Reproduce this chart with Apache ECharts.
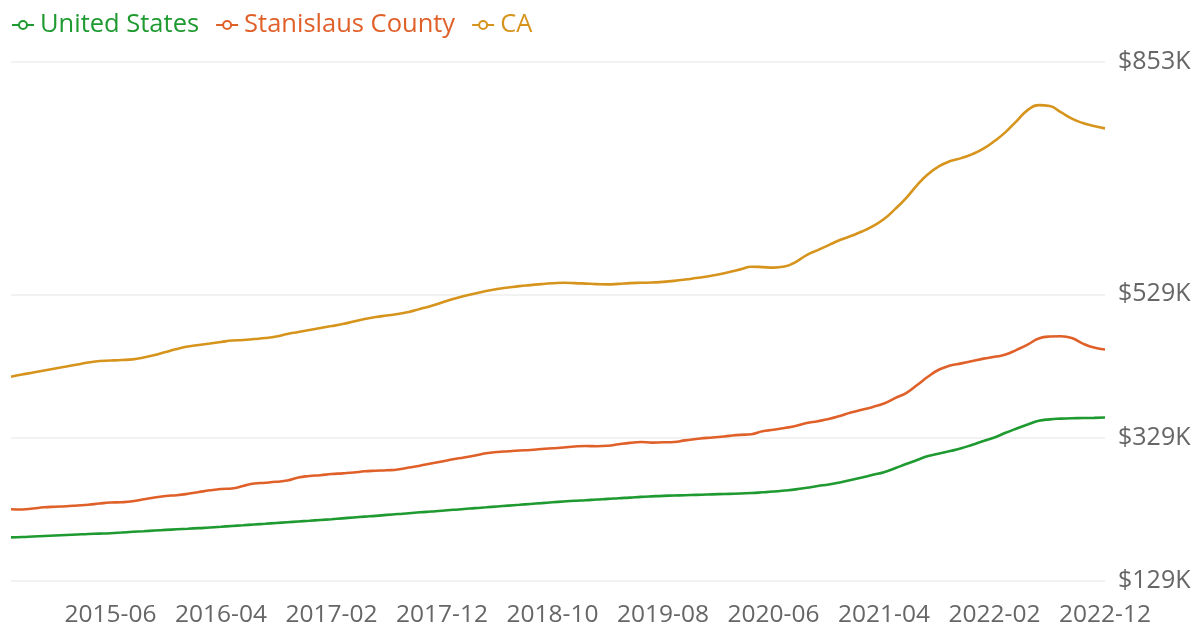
<!DOCTYPE html>
<html>
<head>
<meta charset="utf-8">
<script src="https://cdn.jsdelivr.net/npm/echarts@6/dist/echarts.min.js"></script>
<style>
html,body{margin:0;padding:0;background:#fff;}
#chart{width:1203px;height:633px;}
</style>
</head>
<body>
<div id="chart"></div>
<script>
// Months 2014-09 .. 2022-12
const startYear = 2014, startMonth = 9, monthCount = 100;
const months = [];
for (let k = 0; k < monthCount; k++) {
  const m = startMonth - 1 + k;
  const y = startYear + Math.floor(m / 12);
  const mm = (m % 12) + 1;
  months.push(y + '-' + (mm < 10 ? '0' + mm : mm));
}

const yTicks = [129, 329, 529, 853];

const usValues = [
  189.9,190.4,191.1,191.8,192.5,193.2,193.9,194.6,195.1,195.7,
  196.6,197.6,198.5,199.4,200.3,201.1,201.9,202.8,203.6,204.6,
  205.7,206.7,207.8,208.8,209.9,211.0,212.0,213.0,214.1,215.2,
  216.4,217.6,218.8,219.9,221.2,222.4,223.5,224.8,225.9,227.0,
  228.3,229.4,230.7,231.8,233.0,234.2,235.3,236.5,237.6,238.8,
  239.9,240.9,241.7,242.7,243.5,244.5,245.3,246.3,247.1,247.8,
  248.2,248.7,249.2,249.6,250.2,250.6,251.0,251.7,252.7,253.8,
  255.2,256.8,259.0,261.5,263.6,266.4,269.9,273.4,277.1,280.7,
  286.2,292.2,297.8,303.3,306.8,310.3,314.1,319.1,324.3,329.1,
  335.7,341.7,347.3,352.4,354.5,355.5,356.1,356.3,356.6,357.0
];

const stanislausValues = [
  229.0,228.7,230.1,231.8,232.6,233.3,234.3,235.3,237.1,238.5,
  238.9,240.2,243.0,245.5,247.6,248.7,250.6,253.1,255.5,257.3,
  258.0,261.5,265.0,266.1,267.4,269.2,273.4,275.4,276.6,278.2,
  279.2,280.3,282.0,282.8,283.4,284.5,287.3,289.8,292.9,295.7,
  298.9,301.2,304.0,307.1,308.9,310.0,311.0,311.7,313.1,314.2,
  315.2,316.6,317.3,317.0,317.6,319.8,321.7,322.9,322.0,322.5,
  322.9,325.2,327.0,328.7,329.8,331.5,332.9,333.8,337.8,339.9,
  342.4,345.2,349.4,351.9,354.9,359.1,364.0,367.9,371.9,376.6,
  384.2,391.2,402.4,414.2,424.0,429.6,432.6,435.8,439.2,441.7,
  444.9,451.5,458.8,467.2,470.0,470.4,467.9,460.2,454.6,451.9
];

const caValues = [
  413.9,417.0,419.8,422.6,425.4,428.2,431.0,433.7,435.8,436.5,
  437.2,438.2,440.7,444.2,448.4,452.6,456.1,458.2,460.2,462.3,
  464.4,465.1,466.5,467.9,470.0,473.5,476.3,479.1,481.9,484.6,
  487.4,490.9,494.4,497.2,499.3,501.4,504.2,508.4,512.5,517.4,
  522.3,526.5,530.0,533.5,536.3,538.4,540.4,541.8,543.2,544.3,
  545.0,544.6,543.9,543.2,542.8,543.5,544.6,545.0,545.3,546.3,
  547.7,549.5,551.6,553.7,556.5,560.0,563.7,567.4,566.9,566.2,
  567.6,573.9,583.7,590.6,597.6,604.6,610.2,616.5,624.1,633.9,
  647.8,663.2,681.3,696.7,707.8,714.8,718.9,724.5,732.2,742.7,
  755.2,770.6,785.9,792.9,791.5,783.1,774.1,767.8,763.6,760.4
];

const seriesNames = ['United States', 'Stanislaus County', 'CA'];
const seriesColors = ['#1f9a30', '#e0602a', '#d6941c'];

const chart = echarts.init(document.getElementById('chart'));
const font = "'Open Sans', 'Noto Sans', sans-serif";

function mkSeries(name, data, color) {
  return {
    name: name,
    type: 'line',
    data: data,
    smooth: true,
    showSymbol: false,
    symbol: 'emptyCircle',
    symbolSize: 6,
    lineStyle: { width: 2.6, color: color },
    itemStyle: { color: color }
  };
}

chart.setOption({
  animation: false,
  backgroundColor: '#fff',
  textStyle: { fontFamily: font },
  legend: {
    left: 6,
    top: 7,
    itemWidth: 22,
    itemHeight: 10,
    itemGap: 16,
    data: seriesNames.map(function (n, i) {
      return { name: n, textStyle: { color: seriesColors[i] } };
    }),
    textStyle: { fontSize: 25.5, fontFamily: font, padding: [0, 0, 0, 1] }
  },
  grid: { left: 11, right: 98, top: 62, bottom: 52, containLabel: false },
  xAxis: {
    type: 'category',
    data: months,
    boundaryGap: false,
    axisLine: { show: false },
    axisTick: { show: false },
    splitLine: { show: false },
    axisLabel: {
      interval: function (idx) { return idx % 10 === 9; },
      color: '#666',
      fontSize: 24.5,
      fontFamily: font,
      margin: 22,
      hideOverlap: false
    }
  },
  yAxis: {
    type: 'value',
    position: 'right',
    min: yTicks[0],
    max: yTicks[yTicks.length - 1],
    axisLine: { show: false },
    axisTick: { show: false, customValues: yTicks },
    splitLine: { show: true, lineStyle: { color: '#eeeeee', width: 1.5 } },
    axisLabel: {
      customValues: yTicks,
      formatter: function (v) { return '$' + v + 'K'; },
      color: '#666',
      fontSize: 25,
      fontFamily: font,
      margin: 13
    }
  },
  series: [
    mkSeries(seriesNames[0], usValues, seriesColors[0]),
    mkSeries(seriesNames[1], stanislausValues, seriesColors[1]),
    mkSeries(seriesNames[2], caValues, seriesColors[2])
  ]
});
</script>
</body>
</html>
